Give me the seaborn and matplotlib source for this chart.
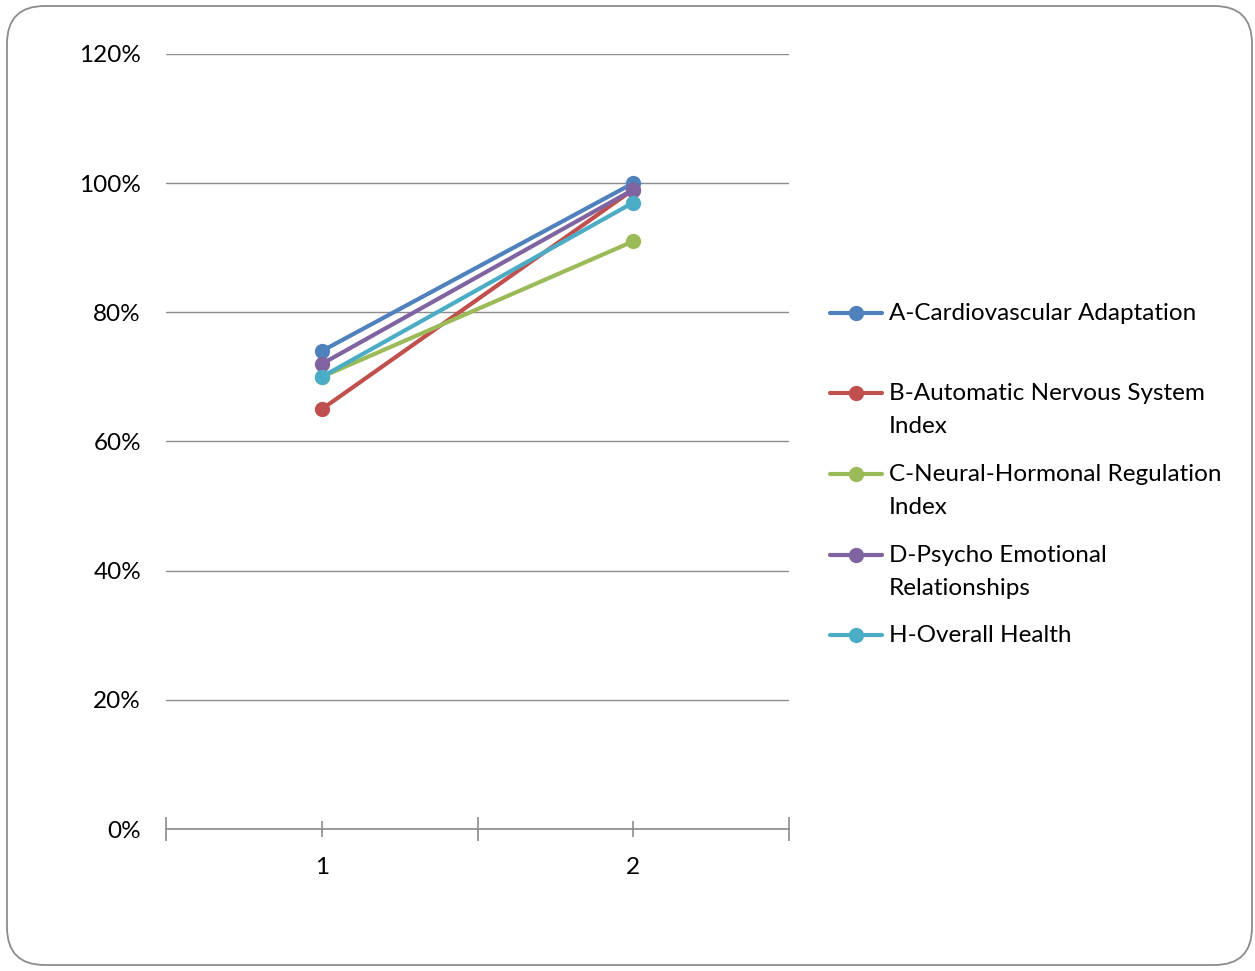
import matplotlib
matplotlib.use("Agg")
import matplotlib.pyplot as plt
import seaborn as sns
import pandas as pd
from matplotlib.patches import FancyBboxPatch
from matplotlib.lines import Line2D
from matplotlib.ticker import FixedLocator, PercentFormatter

categories = [1, 2]
series_names = [
    "A-Cardiovascular Adaptation",
    "B-Automatic Nervous System\nIndex",
    "C-Neural-Hormonal Regulation\nIndex",
    "D-Psycho Emotional\nRelationships",
    "H-Overall Health",
]
A_vals = [74, 100]
B_vals = [65, 99]
C_vals = [70, 91]
D_vals = [72, 99]
H_vals = [70, 97]
colors = ["#4F81BD", "#C0504D", "#9BBB59", "#8064A2", "#4BACC6"]
y_ticks = [0, 20, 40, 60, 80, 100, 120]

sns.set_theme(style="white")
plt.rcParams["font.family"] = ["Lato", "DejaVu Sans"]

rows = []
for name, vals in zip(series_names, [A_vals, B_vals, C_vals, D_vals, H_vals]):
    for c, v in zip(categories, vals):
        rows.append({"cat": c, "val": v, "series": name})
df = pd.DataFrame(rows)

FS = 17.5
fig = plt.figure(figsize=(12.55, 9.71), dpi=100)
fig.patch.set_facecolor("white")
W, H = 1255, 971
ax = fig.add_axes([166 / W, 1 - 829 / H, (789 - 166) / W, (829 - 54) / H])

sns.lineplot(data=df, x="cat", y="val", hue="series", palette=colors,
             marker="o", markersize=11, markeredgewidth=0, linewidth=3,
             ax=ax, legend=False, sort=False)

ax.set_xlim(0.5, 2.5)
ax.set_ylim(0, 120)
ax.yaxis.set_major_locator(FixedLocator(y_ticks))
ax.yaxis.set_major_formatter(PercentFormatter(decimals=0))
ax.grid(axis="y", color="#8c8c8c", linewidth=1.0)
ax.grid(axis="x", visible=False)
ax.set_axisbelow(True)
for s in ["top", "right", "left"]:
    ax.spines[s].set_visible(False)
ax.spines["bottom"].set_color("#8c8c8c")
ax.spines["bottom"].set_linewidth(1.2)

ax.xaxis.set_major_locator(FixedLocator([0.5, 1.5, 2.5]))
ax.xaxis.set_minor_locator(FixedLocator(categories))
ax.set_xticklabels([])
ax.set_xticklabels([str(c) for c in categories], minor=True)
ax.tick_params(axis="x", which="major", direction="inout", length=17, width=1.2,
               color="#8c8c8c", bottom=True, labelbottom=False)
ax.tick_params(axis="x", which="minor", direction="inout", length=12, width=1.2,
               color="#8c8c8c", bottom=True, pad=14, labelsize=FS, labelcolor="black")
ax.tick_params(axis="y", length=0, pad=18, labelsize=FS, labelcolor="black")
ax.set_xlabel("")
ax.set_ylabel("")

# legend drawn at the right, handle aligned with the first text line
legend_y = [313, 393, 474, 555, 635]
for name, col, ly in zip(series_names, colors, legend_y):
    yy = 1 - ly / H
    fig.add_artist(Line2D([830 / W, 882 / W], [yy, yy], color=col, linewidth=3,
                          transform=fig.transFigure))
    fig.add_artist(Line2D([856 / W], [yy], color=col, marker="o", markersize=11,
                          markeredgewidth=0, linestyle="none",
                          transform=fig.transFigure))
    for i, line in enumerate(name.split("\n")):
        fig.text(889 / W, 1 - (ly + 7 + 33 * i) / H, line, fontsize=FS,
                 va="baseline", ha="left", color="black",
                 transform=fig.transFigure)

# rounded frame
frame = FancyBboxPatch((7 / W, 6 / H), (1252 - 7) / W, (965 - 6) / H,
                       boxstyle="round,pad=0,rounding_size=0.03",
                       transform=fig.transFigure, fill=False,
                       edgecolor="#8c8c8c", linewidth=1.3,
                       mutation_aspect=W / H)
fig.add_artist(frame)

fig.savefig("out.png", dpi=100, facecolor="white")
